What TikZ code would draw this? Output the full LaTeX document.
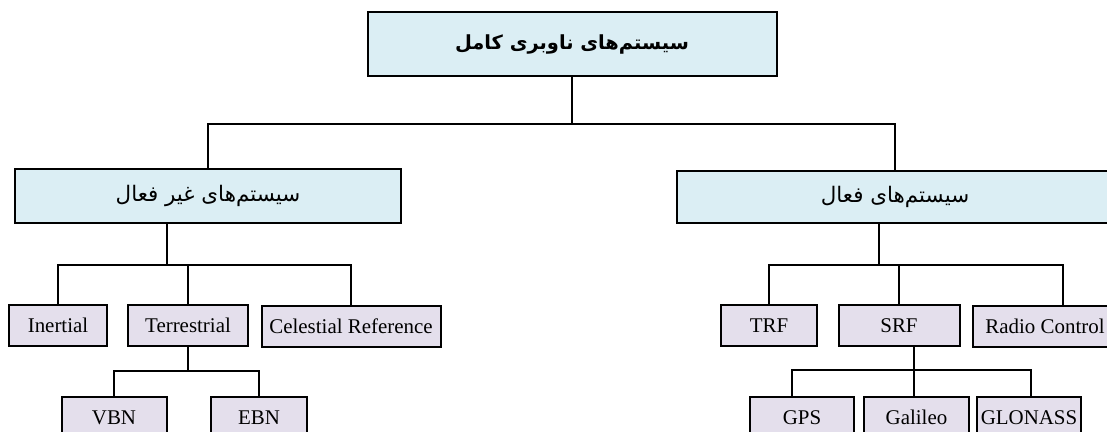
\documentclass[tikz,border=0pt]{standalone}
\usepackage{fontspec}
\setmainfont{Liberation Serif}
\newfontfamily\arabicfont[Script=Arabic]{DejaVu Sans}
\TeXXeTstate=1
\definecolor{boxblue}{RGB}{219,238,244}
\definecolor{boxlav}{RGB}{228,223,236}
\begin{document}
\begin{tikzpicture}[x=1bp,y=-1bp,
  fabox/.style={draw=black, line width=2bp, fill=boxblue, inner sep=0pt,
    font=\arabicfont\fontsize{21.5}{21.5}\selectfont},
  enbox/.style={draw=black, line width=2bp, fill=boxlav, inner sep=0pt,
    minimum height=41bp, text height=14bp, text depth=0bp,
    font=\fontsize{21}{21}\selectfont},
  conn/.style={line width=2bp, line cap=rect}]
\useasboundingbox (0,0) rectangle (1107,431);
\clip (0,0) rectangle (1107,431);
\coordinate (r1) at (0,124);
\coordinate (r2) at (0,265);
\coordinate (r3) at (0,371);
\coordinate (r3b) at (0,370);
% level 1
\node[fabox, minimum width=409bp, minimum height=64bp, font=\arabicfont\bfseries\fontsize{19.5}{19.5}\selectfont] (top) at (572,44) {\beginR سیستم‌های ناوبری کامل\endR};
% level 2
\node[fabox, minimum width=385bp, minimum height=54bp] (passive) at (208,196) {\beginR سیستم‌های غیر فعال\endR};
\node[fabox, minimum width=436bp, minimum height=52bp] (active) at (895,197) {\beginR سیستم‌های فعال\endR};
% level 3
\node[enbox, minimum width=97bp] (inertial) at (58,325.5) {Inertial};
\node[enbox, minimum width=120bp] (terr) at (188,325.5) {Terrestrial};
\node[enbox, minimum width=179bp] (cel) at (351,326) {Celestial Reference};
\node[enbox, minimum width=96bp] (trf) at (769,325.5) {TRF};
\node[enbox, minimum width=121bp] (srf) at (899,325.5) {SRF};
\node[enbox, minimum width=144bp] (rc) at (1045,326) {Radio Control};
% level 4
\node[enbox, minimum width=105bp] (vbn) at (114,417.5) {VBN};
\node[enbox, minimum width=96bp] (ebn) at (259,417.5) {EBN};
\node[enbox, minimum width=104bp] (gps) at (802,417) {GPS};
\node[enbox, minimum width=105bp] (gal) at (916.5,417) {Galileo};
\node[enbox, minimum width=104bp] (glo) at (1029,417) {GLONASS};
% connectors level 1 -> 2
\draw[conn] (top.south) -- (top.south |- r1);
\draw[conn] (passive.north) -- (passive.north |- r1) -- (active.north |- r1) -- (active.north);
% passive -> level 3
\path ([xshift=-41bp]passive.south) coordinate (ps);
\draw[conn] (ps) -- (ps |- r2);
\draw[conn] (inertial.north) -- (inertial.north |- r2) -- (cel.north |- r2) -- (cel.north);
\draw[conn] (terr.north) -- (terr.north |- r2);
% active -> level 3
\path ([xshift=-16bp]active.south) coordinate (as);
\path ([xshift=18bp]rc.north) coordinate (rcn);
\draw[conn] (as) -- (as |- r2);
\draw[conn] (trf.north) -- (trf.north |- r2) -- (rcn |- r2) -- (rcn);
\draw[conn] (srf.north) -- (srf.north |- r2);
% terrestrial -> level 4
\draw[conn] (terr.south) -- (terr.south |- r3);
\draw[conn] (vbn.north) -- (vbn.north |- r3) -- (ebn.north |- r3) -- (ebn.north);
% srf -> level 4
\path ([xshift=15bp]srf.south) coordinate (ss);
\path ([xshift=-10bp]gps.north) coordinate (gpn);
\path ([xshift=2bp]glo.north) coordinate (gln);
\draw[conn] (ss) -- (ss |- gal.north);
\draw[conn] (gpn) -- (gpn |- r3b) -- (gln |- r3b) -- (gln);
\end{tikzpicture}
\end{document}
